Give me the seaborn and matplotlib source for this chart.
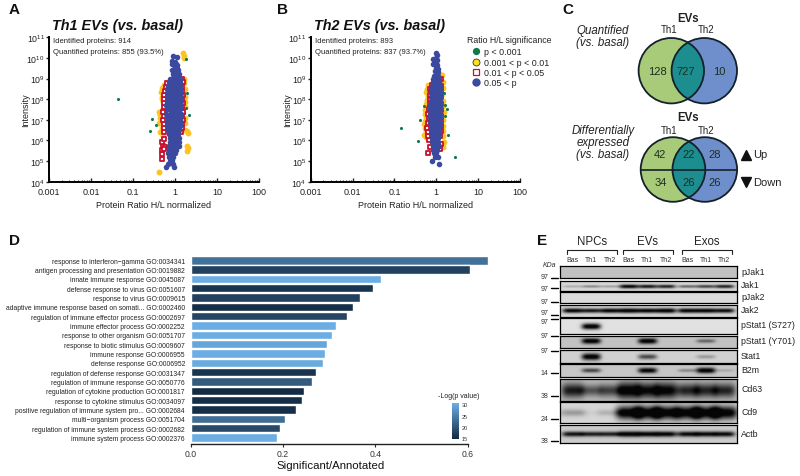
import matplotlib
matplotlib.use("Agg")
import matplotlib.pyplot as plt
import seaborn as sns
import numpy as np
import pandas as pd
from matplotlib.colors import LinearSegmentedColormap, Normalize
from matplotlib.cm import ScalarMappable
from matplotlib.lines import Line2D
from matplotlib.patches import Circle
from matplotlib.ticker import LogLocator, NullFormatter

# Scatter data (ratio, intensity)
th1_green = [(0.043, 1e8), (0.29, 1.1e7), (0.35, 5.7e6), (0.25, 2.9e6), (2.2, 1.7e7), (1.83, 9e9),
             (1.93, 1.9e8), (1.83, 3.7e7), (1.66, 2.1e7)]
th1_yellow = [(0.41, 3e4), (1.52, 1.75e10), (1.62, 1.3e10), (1.65, 1e10), (1.97, 3e5), (1.9, 5.6e5), (2.0, 4.3e5),
              (2.07, 2.3e6), (1.76, 3.3e6), (1.9, 2.9e6), (0.48, 3.5e8), (0.47, 2.2e8), (0.48, 1.3e8), (0.53, 7e7),
              (0.5, 1e8), (0.42, 2.5e7), (0.45, 1.8e7), (0.44, 1.2e7), (0.42, 7e6), (0.47, 9e6), (0.44, 2.5e6),
              (0.48, 4e6), (1.73, 3.2e8), (1.72, 1.3e8), (1.75, 7e7), (1.7, 4e7), (1.75, 1.2e7), (1.72, 7e6),
              (1.62, 1e9), (1.65, 6e8), (0.55, 5e8), (0.52, 1.6e6), (0.5, 3e7)]
th1_red = [(0.48, 1.3e5), (0.49, 2.2e5), (0.5, 3.6e5), (0.53, 5.5e5), (0.5, 8e5), (0.55, 1.2e6), (0.56, 2.6e6),
           (0.54, 4e6), (0.55, 6.5e6), (0.52, 1e7), (0.54, 1.6e7), (0.53, 2.5e7), (0.56, 4e7), (0.55, 6.5e7),
           (0.56, 1e8), (0.55, 1.6e8), (0.57, 2.5e8), (0.6, 4e8), (0.63, 6e8), (1.44, 1e9), (1.44, 3.7e8),
           (1.52, 6.5e8), (1.5, 2.5e8), (1.55, 1.6e8), (1.5, 1e8), (1.55, 6.5e7), (1.5, 4e7), (1.55, 2.5e7),
           (1.5, 1.6e7), (1.52, 1e7), (1.48, 6.5e6), (1.5, 4e6), (1.42, 2.6e6), (0.58, 5e5), (0.56, 4e5)]
th1_blue = [(0.88, 1.2e10), (1.09, 1.05e10), (0.85, 7e9), (1.0, 6.5e9), (0.83, 5e9), (1.03, 5e9), (1.12, 4.8e9),
            (1.0, 3.5e9), (1.1, 3.4e9), (0.83, 2.5e9), (0.95, 2.4e9), (1.08, 2.5e9), (1.18, 2.6e9),
            (0.88, 1.6e9), (1.0, 1.7e9), (1.12, 1.5e9), (1.22, 1.6e9),
            (0.78, 1e9), (0.9, 1.1e9), (1.02, 1e9), (1.15, 1e9), (1.28, 1e9),
            (0.72, 7e8), (0.84, 7e8), (0.96, 6.8e8), (1.08, 7e8), (1.2, 7.2e8), (1.32, 7e8),
            (0.68, 4.5e8), (0.8, 4.6e8), (0.92, 4.4e8), (1.05, 4.5e8), (1.18, 4.5e8), (1.32, 4.4e8),
            (0.66, 3e8), (0.78, 3e8), (0.9, 3.1e8), (1.03, 3e8), (1.18, 2.9e8), (1.35, 3e8),
            (0.64, 2e8), (0.76, 2e8), (0.89, 2.1e8), (1.02, 2e8), (1.17, 1.9e8), (1.36, 2e8),
            (0.63, 1.3e8), (0.75, 1.3e8), (0.88, 1.3e8), (1.02, 1.25e8), (1.18, 1.3e8), (1.38, 1.3e8),
            (0.63, 8e7), (0.74, 8e7), (0.87, 8.2e7), (1.01, 8e7), (1.18, 7.8e7), (1.37, 8e7),
            (0.62, 5e7), (0.74, 5e7), (0.87, 5e7), (1.0, 5e7), (1.16, 5e7), (1.36, 5e7),
            (0.63, 3.2e7), (0.75, 3.2e7), (0.87, 3.1e7), (1.01, 3.2e7), (1.17, 3.2e7), (1.35, 3.2e7),
            (0.62, 2e7), (0.74, 2e7), (0.86, 2e7), (1.0, 2e7), (1.16, 2e7), (1.36, 2e7),
            (0.63, 1.3e7), (0.75, 1.3e7), (0.87, 1.3e7), (1.01, 1.3e7), (1.18, 1.25e7), (1.38, 1.3e7),
            (0.64, 8e6), (0.76, 8e6), (0.88, 8e6), (1.02, 8e6), (1.18, 8e6), (1.36, 8e6),
            (0.66, 5e6), (0.78, 5e6), (0.9, 5e6), (1.03, 5e6), (1.17, 5e6), (1.33, 5e6),
            (0.7, 3.2e6), (0.82, 3.2e6), (0.95, 3.2e6), (1.08, 3.2e6), (1.22, 3.2e6),
            (0.72, 2e6), (0.84, 2e6), (0.96, 2e6), (1.1, 2e6), (1.2, 2e6),
            (0.75, 1.3e6), (0.88, 1.3e6), (1.0, 1.3e6), (1.12, 1.3e6), (1.25, 1.3e6),
            (0.78, 8e5), (0.9, 8e5), (1.02, 8e5), (1.15, 8e5), (1.25, 8e5),
            (0.72, 5.5e5), (0.85, 5.5e5), (0.98, 5.5e5), (1.22, 5.5e5),
            (0.72, 3.5e5), (0.8, 3.4e5), (0.9, 3.5e5), (1.05, 3.5e5),
            (0.7, 2.4e5), (0.78, 2.4e5), (0.85, 2.3e5), (1.02, 2.4e5),
            (0.72, 1.6e5), (0.8, 1.6e5), (0.9, 1.5e5), (0.75, 1e5), (0.85, 1.1e5), (0.67, 7.5e4), (0.92, 7.5e4),
            (0.6, 5e4), (0.95, 5e4)]

th2_green = [(0.147, 4.1e6), (0.37, 9.6e5), (0.4, 1e7), (0.51, 4.7e7), (1.52, 1.9e8), (1.76, 3.5e7), (1.6, 5.5e7),
             (1.86, 1.8e6), (2.83, 1.6e5), (1.6, 1.6e7)]
th2_yellow = [(0.62, 5e8), (0.6, 3.2e8), (0.58, 2.2e8), (0.62, 1.4e8), (0.6, 9e7), (0.56, 6e7), (0.62, 4e7),
              (0.54, 3e7), (0.55, 2e7), (0.58, 1.3e7), (0.52, 6e6), (0.54, 4e6), (0.56, 2.8e6), (0.5, 1.8e6),
              (0.58, 1.5e6), (1.35, 1.5e9), (1.42, 7e8), (1.45, 3.5e8), (1.4, 1.7e8), (1.45, 8e7), (1.42, 4.5e7),
              (1.5, 2.5e7), (1.45, 1e7), (1.48, 5e6), (1.45, 3e6), (1.42, 1.6e6), (1.52, 8e5), (1.48, 5e5), (0.55, 9e6)]
th2_red = [(0.62, 2.5e5), (0.72, 5e5), (0.68, 1.1e6), (0.62, 1.7e6), (0.62, 2.6e6), (0.6, 4.2e6), (0.64, 7e6),
           (0.66, 1.2e7), (0.64, 2e7), (0.68, 3.3e7), (0.7, 6e7), (0.7, 1e8), (0.72, 1.6e8), (0.72, 3e8), (0.78, 5e8),
           (1.3, 1e9), (1.28, 4.5e8), (1.3, 2.6e8), (1.28, 1.3e8), (1.3, 6e7), (1.32, 3e7), (1.28, 1.5e7),
           (1.32, 9e6), (1.3, 5e6), (1.28, 3e6), (1.22, 1.6e6), (1.28, 7e5), (1.22, 4e5)]
th2_blue = [(1.0, 1.8e10), (1.02, 1.4e10), (0.82, 8.5e9), (1.0, 1e10), (1.06, 8e9), (1.0, 6e9), (1.06, 4.5e9),
            (0.84, 5e9), (1.0, 3.2e9), (1.1, 3e9), (0.94, 2.2e9), (1.02, 2.2e9), (1.12, 2e9),
            (0.9, 1.4e9), (1.0, 1.4e9), (1.12, 1.4e9), (0.85, 1e9), (0.96, 1e9), (1.06, 1e9), (1.18, 1e9),
            (0.82, 7e8), (0.92, 7e8), (1.02, 7e8), (1.14, 7e8), (0.8, 4.5e8), (0.9, 4.5e8), (1.0, 4.5e8), (1.1, 4.5e8), (1.2, 4.5e8),
            (0.76, 3e8), (0.87, 3e8), (0.98, 3e8), (1.08, 3e8), (1.2, 3e8),
            (0.74, 2e8), (0.85, 2e8), (0.96, 2e8), (1.08, 2e8), (1.22, 2e8),
            (0.74, 1.3e8), (0.85, 1.3e8), (0.96, 1.3e8), (1.08, 1.3e8), (1.22, 1.3e8),
            (0.74, 8e7), (0.85, 8e7), (0.96, 8e7), (1.08, 8e7), (1.22, 8e7),
            (0.72, 5e7), (0.84, 5e7), (0.96, 5e7), (1.08, 5e7), (1.22, 5e7),
            (0.72, 3.2e7), (0.84, 3.2e7), (0.96, 3.2e7), (1.08, 3.2e7), (1.24, 3.2e7),
            (0.72, 2e7), (0.84, 2e7), (0.96, 2e7), (1.08, 2e7), (1.24, 2e7),
            (0.72, 1.3e7), (0.84, 1.3e7), (0.96, 1.3e7), (1.08, 1.3e7), (1.22, 1.3e7),
            (0.72, 8e6), (0.84, 8e6), (0.96, 8e6), (1.08, 8e6), (1.22, 8e6),
            (0.74, 5e6), (0.85, 5e6), (0.96, 5e6), (1.08, 5e6), (1.2, 5e6),
            (0.76, 3.2e6), (0.86, 3.2e6), (0.97, 3.2e6), (1.08, 3.2e6), (1.18, 3.2e6),
            (0.78, 2e6), (0.88, 2e6), (0.98, 2e6), (1.08, 2e6), (1.18, 2e6),
            (0.8, 1.3e6), (0.9, 1.3e6), (1.0, 1.3e6), (1.12, 1.3e6), (0.8, 8e5), (0.9, 8e5), (1.0, 8e5), (1.1, 8e5),
            (0.82, 5.5e5), (0.92, 5.5e5), (1.04, 5.5e5), (1.16, 5.5e5), (0.84, 3.5e5), (0.94, 3.5e5), (1.06, 3.6e5),
            (0.88, 2.4e5), (1.0, 2.6e5), (0.93, 1.6e5), (1.12, 1.5e5), (0.8, 1e5), (1.15, 7.5e4)]

x_ticks = [0.001, 0.01, 0.1, 1, 10, 100]
x_tick_labels = ["0.001", "0.01", "0.1", "1", "10", "100"]
y_ticks = [1e4, 1e5, 1e6, 1e7, 1e8, 1e9, 1e10, 1e11]
legend_labels = ["p < 0.001", "0.001 < p < 0.01", "0.01 < p < 0.05", "0.05 < p"]

# GO bars
go_labels = ["response to interferon\u2212gamma GO:0034341", "antigen processing and presentation GO:0019882",
             "innate immune response GO:0045087", "defense response to virus GO:0051607",
             "response to virus GO:0009615", "adaptive immune response based on somati... GO:0002460",
             "regulation of immune effector process GO:0002697", "immune effector process GO:0002252",
             "response to other organism GO:0051707", "response to biotic stimulus GO:0009607",
             "immune response GO:0006955", "defense response GO:0006952",
             "regulation of defense response GO:0031347", "regulation of immune response GO:0050776",
             "regulation of cytokine production GO:0001817", "response to cytokine stimulus GO:0034097",
             "positive regulation of immune system pro... GO:0002684", "multi\u2212organism process GO:0051704",
             "regulation of immune system process GO:0002682", "immune system process GO:0002376"]
go_ratio = [0.645, 0.604, 0.412, 0.396, 0.366, 0.351, 0.339, 0.315, 0.306, 0.295,
            0.291, 0.286, 0.272, 0.262, 0.246, 0.242, 0.228, 0.205, 0.194, 0.187]
go_logp = [23, 17.5, 30, 16, 17.5, 15.5, 18, 30, 30, 29, 30, 29.5, 16, 20.5, 15, 15.5, 15.5, 22.5, 18.5, 30]
cbar_ticks = [15, 20, 25, 30]

# Venn numbers
venn_quant = ["128", "727", "10"]
venn_up = ["42", "22", "28"]
venn_down = ["34", "26", "26"]

# Western blots: darkness of the band in each of the 9 lanes
lane_names = ["Bas", "Th1", "Th2", "Bas", "Th1", "Th2", "Bas", "Th1", "Th2"]
group_names = ["NPCs", "EVs", "Exos"]
blot_names = ["pJak1", "Jak1", "pJak2", "Jak2", "pStat1 (S727)", "pStat1 (Y701)", "Stat1", "B2m", "Cd63", "Cd9", "Actb"]
blot_bg = [0.76, 0.84, 0.86, 0.84, 0.88, 0.76, 0.82, 0.78, 0.72, 0.84, 0.80]
lanes_pjak1 = [0, 0, 0, 0, 0, 0, 0, 0, 0]
lanes_jak1 = [0.2, 0.35, 0.25, 0.95, 0.85, 0.8, 0.5, 0.65, 0.8]
lanes_pjak2 = [0, 0, 0, 0, 0, 0, 0, 0, 0]
lanes_jak2 = [0.95, 0.85, 0.95, 1, 0.95, 1, 0.95, 0.95, 0.9]
lanes_s727 = [0, 1, 0, 0, 0, 0, 0, 0, 0]
lanes_y701 = [0, 1, 0, 0, 1, 0, 0, 0.45, 0]
lanes_stat1 = [0, 1, 0, 0, 0.6, 0, 0, 0.25, 0]
lanes_b2m = [0, 0.6, 0, 0, 0.95, 0, 0.3, 1, 0.15]
lanes_cd63 = [0.8, 0.5, 0.6, 1, 0.9, 0.95, 0.75, 0.75, 0.75]
lanes_cd9 = [0.25, 0.03, 0.15, 1, 1, 1, 1, 1, 1]
lanes_actb = [0.85, 0.8, 0.8, 1, 0.95, 0.95, 0.9, 0.9, 0.9]
kda_labels = ["97", "97", "97", "97", "97", "97", "97", "14", "38", "24", "38"]

sns.set_style("white")
plt.rcParams["font.family"] = ["Liberation Sans", "DejaVu Sans"]
plt.rcParams["mathtext.default"] = "regular"
plt.rcParams["text.color"] = "#222222"

W, H = 800, 477
fig = plt.figure(figsize=(W / 100, H / 100), dpi=100)


def px_axes(left, top, right, bottom):
    return fig.add_axes([left / W, 1 - bottom / H, (right - left) / W, (bottom - top) / H])


# overlay in pixel coordinates for text and the venn diagrams
ov = fig.add_axes([0, 0, 1, 1], zorder=5)
ov.set_xlim(0, W)
ov.set_ylim(H, 0)
ov.axis("off")

C_GREEN, C_YELLOW, C_RED, C_BLUE = "#0E7A4A", "#FBC423", "#C8102E", "#3B4A9E"


def scatter_panel(left, right, green, yellow, red, blue, title, lines):
    ax = px_axes(left, 38.3, right, 182.7)
    ax.set_xscale("log")
    ax.set_yscale("log")
    for pts, col, size, mark, face, lw in [(yellow, C_YELLOW, 18, "o", C_YELLOW, 0),
                                           (green, C_GREEN, 5, "o", C_GREEN, 0),
                                           (red, C_RED, 7, "s", "white", 1.3),
                                           (blue, C_BLUE, 16, "o", C_BLUE, 0)]:
        df = pd.DataFrame(pts, columns=["ratio", "intensity"])
        sns.scatterplot(data=df, x="ratio", y="intensity", ax=ax, s=size, marker=mark, facecolor=face,
                        edgecolor=col, linewidth=lw, clip_on=False)
    ax.set_xlim(0.001, 100)
    ax.set_ylim(1e4, 1e11)
    ax.set_xticks(x_ticks, x_tick_labels)
    ax.set_yticks(y_ticks)
    ax.xaxis.set_minor_locator(LogLocator(base=10, subs=range(2, 10), numticks=12))
    ax.yaxis.set_minor_locator(LogLocator(base=10, subs=range(2, 10), numticks=12))
    ax.xaxis.set_minor_formatter(NullFormatter())
    ax.yaxis.set_minor_formatter(NullFormatter())
    ax.tick_params(axis="x", which="major", direction="in", length=3, width=1, labelsize=6.5, pad=3.5,
                   labelcolor="#222222", bottom=True)
    ax.tick_params(axis="y", which="major", direction="out", length=2, width=1, labelsize=6.3, pad=1,
                   labelcolor="#222222", left=True)
    ax.tick_params(axis="x", which="minor", direction="in", length=1.5, width=0.8, bottom=True)
    ax.tick_params(axis="y", which="minor", direction="out", length=1, width=0.8, left=True)
    ax.patch.set_alpha(0)
    for s in ["top", "right"]:
        ax.spines[s].set_visible(False)
    for s in ["left", "bottom"]:
        ax.spines[s].set_linewidth(1.4)
        ax.spines[s].set_color("black")
    ax.set_xlabel("Protein Ratio H/L normalized", fontsize=6.5, color="#222222", labelpad=3)
    ax.set_ylabel("Intensity", fontsize=6.5, color="#222222", labelpad=-3)
    ov.text(left + 3, 26, title, fontsize=10.4, fontweight="bold", fontstyle="italic", va="center", color="#111111")
    ov.text(left + 4, 41.7, lines[0], fontsize=5.5, va="center")
    ov.text(left + 4, 52, lines[1], fontsize=5.5, va="center")
    return ax


ax_a = scatter_panel(49, 259, th1_green, th1_yellow, th1_red, th1_blue, "Th1 EVs (vs. basal)",
                     ["Identified proteins: 914", "Quantified proteins: 855 (93.5%)"])
ax_b = scatter_panel(310.7, 520, th2_green, th2_yellow, th2_red, th2_blue, "Th2 EVs (vs. basal)",
                     ["Identified proteins: 893", "Quantified proteins: 837 (93.7%)"])

# legend for the scatter panels
handles = [Line2D([], [], ls="", marker="o", ms=4.2, mfc=C_GREEN, mec=C_GREEN),
           Line2D([], [], ls="", marker="o", ms=5, mfc="#FFE11A", mec="#333333", mew=0.6),
           Line2D([], [], ls="", marker="s", ms=3.8, mfc="white", mec=C_RED, mew=0.9),
           Line2D([], [], ls="", marker="o", ms=5, mfc=C_BLUE, mec=C_BLUE)]
leg = fig.legend(handles, legend_labels, title="Ratio H/L significance", fontsize=6.4, title_fontsize=6.3,
                 loc="upper left", bbox_to_anchor=(466.7 / W, 1 - 36 / H), frameon=False, handletextpad=-0.15,
                 labelspacing=0.14, borderpad=0, borderaxespad=0, handlelength=2.1)
leg._legend_box.align = "left"
leg._legend_box.sep = 2.5

# panel D
ax_d = px_axes(190.5, 255, 500, 444.7)
cmap = LinearSegmentedColormap.from_list("go", ["#132B43", "#6CAEE4"])
norm = Normalize(15, 30)
go_df = pd.DataFrame({"term": go_labels, "ratio": go_ratio})
sns.barplot(data=go_df, x="ratio", y="term", hue="term", palette=[cmap(norm(v)) for v in go_logp],
            legend=False, width=0.9, saturation=1, ax=ax_d)
ax_d.set_xlim(0, (500 - 190.5) / 462)
ax_d.set_ylim(19.68, -0.68)
ax_d.set_xticks([0, 0.2, 0.4, 0.6], ["0.0", "0.2", "0.4", "0.6"])
ax_d.tick_params(axis="y", length=0, labelsize=4.85, pad=4, labelcolor="#222222")
ax_d.tick_params(axis="x", length=2, width=0.8, labelsize=6.2, pad=1.5, labelcolor="#333333", bottom=True)
for s in ["top", "right", "left"]:
    ax_d.spines[s].set_visible(False)
ax_d.spines["bottom"].set_bounds(0, 0.6)
ax_d.spines["bottom"].set_linewidth(1)
ax_d.spines["bottom"].set_color("#222222")
ax_d.set_ylabel("")
ax_d.set_xlabel("")
ax_d.patch.set_alpha(0)
ov.text(330.5, 466.5, "Significant/Annotated", fontsize=8.2, ha="center", va="center", color="#111111")

cax = px_axes(452, 404, 459.3, 439.5)
cb = fig.colorbar(ScalarMappable(norm=Normalize(14.9, 30.5), cmap=cmap), cax=cax, ticks=cbar_ticks)
cb.outline.set_visible(False)
cb.ax.tick_params(labelsize=4, length=0, pad=1.5, labelcolor="#333333")
ov.text(459, 397, "-Log(p value)", fontsize=5, ha="center", va="center")

# panel C
C_V1, C_V2, C_LENS = "#A8CB7A", "#6E8FCC", "#1C8E90"
EDGE = "#14202C"


def venn(cx1, cx2, cy, r):
    c1 = Circle((cx1, cy), r, fc=C_V1, ec="none", zorder=1)
    c2 = Circle((cx2, cy), r, fc=C_V2, ec="none", zorder=2)
    ov.add_patch(c1)
    ov.add_patch(c2)
    lens = Circle((cx2, cy), r, fc=C_LENS, ec="none", zorder=3)
    ov.add_patch(lens)
    lens.set_clip_path(Circle((cx1, cy), r, transform=ov.transData))
    for cx in (cx1, cx2):
        ov.add_patch(Circle((cx, cy), r, fc="none", ec=EDGE, lw=1.3, zorder=4))


venn(671.3, 704.3, 71.7, 32.7)
venn(673, 704.8, 170.5, 32.3)
ov.plot([640.5, 737], [170.5, 170.5], color=EDGE, lw=1.2, zorder=5)

for x, t in zip([657.3, 686, 719.3], venn_quant):
    ov.text(x, 72.3, t, fontsize=8, ha="center", va="center", color="#1C2E20", zorder=6)
for x, up, down in zip([660.3, 688.3, 715], venn_up, venn_down):
    ov.text(x, 155.5, up, fontsize=8, ha="center", va="center", color="#1C2E20", zorder=6)
    ov.text(x, 182.7, down, fontsize=8, ha="center", va="center", color="#1C2E20", zorder=6)
for y_ev, y_th in [(19.3, 30.3), (118, 131)]:
    ov.text(687.7, y_ev, "EVs", fontsize=8.3, fontweight="bold", ha="center", va="center")
    ov.text(668.7, y_th, "Th1", fontsize=7, ha="center", va="center")
    ov.text(706, y_th, "Th2", fontsize=7, ha="center", va="center")
for y, t in [(30.7, "Quantified"), (42.7, "(vs. basal)"), (130.7, "Differentially"), (142.7, "expressed"), (155, "(vs. basal)")]:
    ov.text(603, y, t, fontsize=8.3, fontstyle="italic", ha="center", va="center")
ov.plot([745.7], [155.5], marker="^", ms=6.5, color="#111111", ls="")
ov.plot([745.7], [183], marker="v", ms=6.5, color="#111111", ls="")
ov.text(753.3, 155.5, "Up", fontsize=8, va="center")
ov.text(752.7, 183, "Down", fontsize=8, va="center")

# panel E
lane_x = np.array([127, 183, 240, 296, 352, 408, 472, 527, 583]) / 3 - 30
blots = [
    (112, 148, lanes_pjak1, 0.5, 3, 9), (155, 185, lanes_jak1, 0.52, 2, 9.5), (188, 222, lanes_pjak2, 0.5, 3, 9),
    (227, 263, lanes_jak2, 0.45, 2.4, 10), (268, 314, lanes_s727, 0.5, 2.8, 9.5), (320, 357, lanes_y701, 0.43, 2.6, 9.5),
    (362, 401, lanes_stat1, 0.5, 3.4, 9.5), (405, 445, lanes_b2m, 0.5, 2.6, 9.5), (450, 515, lanes_cd63, 0.52, 8, 11),
    (520, 583, lanes_cd9, 0.5, 6.5, 13), (589, 642, lanes_actb, 0.5, 2.8, 10.5),
]
for name, bg, (z_top, z_bot, lanes, yc, hw, lw_px) in zip(blot_names, blot_bg, blots):
    top, bottom = 230 + z_top / 3, 230 + z_bot / 3
    ax = px_axes(560, top, 736.7, bottom)
    h = int(round(bottom - top)) * 2
    yy, xx = np.mgrid[0:h, 0:354]
    yy = yy / 2
    xx = xx / 2
    dark = np.zeros((h, 354))
    for c, v in zip(lane_x, lanes):
        # weak bands are thinner as well as paler
        band_h = hw * (0.4 + 0.6 * v)
        dark += v * np.exp(-((xx - c) / lw_px) ** 4) * np.exp(-((yy - yc * (bottom - top)) / band_h) ** 2)
    dark = np.clip(dark * 1.1, 0, 0.97)
    ax.imshow(bg * (1 - dark), cmap="gray", vmin=0, vmax=1, aspect="auto", interpolation="bilinear")
    ax.set_xticks([])
    ax.set_yticks([])
    for s in ax.spines.values():
        s.set_visible(True)
        s.set_linewidth(0.9)
        s.set_color("black")
    ov.text(741, (top + bottom) / 2 - 1, name, fontsize=6.3, va="center", color="#222222")

for x, lab in zip(lane_x, lane_names):
    ov.text(560 + x, 261, lab, fontsize=5, ha="center", va="center", color="#333333")
for (z0, z1), name in zip([(110, 262), (278, 430), (455, 606)], group_names):
    x0, x1 = 530 + z0 / 3, 530 + z1 / 3
    ov.plot([x0, x0, x1, x1], [254.7, 250.7, 250.7, 254.7], color="#222222", lw=0.8)
    ov.text((x0 + x1) / 2, 242.3, name, fontsize=8.3, ha="center", va="center", color="#222222")
ov.text(550, 266, "KDa", fontsize=5, fontstyle="italic", ha="center", va="center", color="#333333")
kda_tick_y = [147, 178, 218, 257, 271, 322, 367, 432, 500, 570, 635]
kda_text_y = [143, 178, 217, 250, 277, 320, 366, 431, 500, 570, 636]
for t, ty, lab in zip(kda_tick_y, kda_text_y, kda_labels):
    ov.plot([551, 558], [230 + t / 3, 230 + t / 3], color="black", lw=1)
    ov.text(544.5, 230 + ty / 3, lab, fontsize=5, ha="center", va="center", color="#333333")

# panel letters
for x, y, t in [(14, 10, "A"), (283, 10, "B"), (568, 10, "C"), (14, 241.5, "D"), (541.7, 241.5, "E")]:
    ov.text(x, y, t, fontsize=11, fontweight="bold", ha="center", va="center", color="#111111")

fig.savefig("out.png", dpi=100)
